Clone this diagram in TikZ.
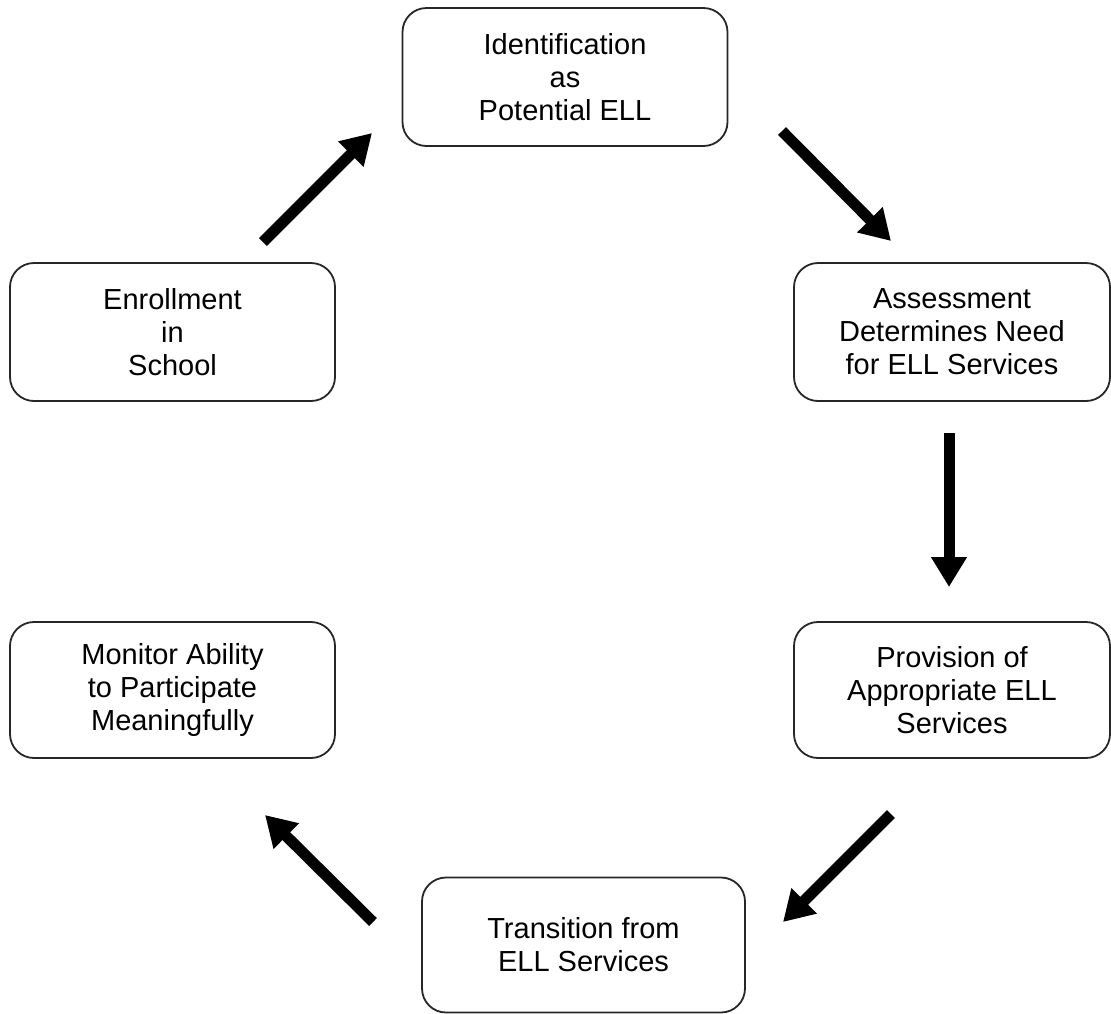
\documentclass[tikz,border=0pt]{standalone}
\usepackage{fontspec}
\setmainfont{Liberation Sans}
\usetikzlibrary{arrows.meta}
\begin{document}
\begin{tikzpicture}[x=1pt,y=-1pt,
  stage/.style={draw=black!85, line width=1.8pt, rounded corners=24pt, fill=white,
    inner sep=0pt, align=center, font=\fontsize{29}{33}\selectfont},
  flow/.style={line width=11pt, -{Triangle[length=30pt,width=34pt]}}]
\useasboundingbox (0,0) rectangle (1111,1013);
\node[stage, minimum width=325pt, minimum height=138pt] (idn) at (565,77) {Identification\\as\\Potential ELL};
\node[stage, minimum width=316pt, minimum height=138pt] (ass) at (952,332) {Assessment\\Determines Need\\for ELL Services};
\node[stage, minimum width=325pt, minimum height=138pt] (enr) at (172.5,332) {Enrollment\\in\\School};
\node[stage, minimum width=316pt, minimum height=136pt] (pro) at (952,690) {Provision of\\Appropriate ELL\\Services};
\node[stage, minimum width=325pt, minimum height=136pt] (mon) at (172.5,690) {Monitor Ability\\to Participate\\Meaningfully};
\node[stage, minimum width=323pt, minimum height=135pt] (tra) at (583.5,945) {Transition from\\ELL Services};
\coordinate (a1s) at (263,242); \coordinate (a1e) at (372,133);
\coordinate (a2s) at (782,131); \coordinate (a2e) at (891,241);
\coordinate (a3s) at (949,433); \coordinate (a3e) at (949,587);
\coordinate (a4s) at (891,814); \coordinate (a4e) at (783,922);
\coordinate (a5s) at (373,922); \coordinate (a5e) at (265,815);
\draw[flow] (a1s) -- (a1e);
\draw[flow] (a2s) -- (a2e);
\draw[flow] (a3s) -- (a3e);
\draw[flow] (a4s) -- (a4e);
\draw[flow] (a5s) -- (a5e);
\end{tikzpicture}
\end{document}
